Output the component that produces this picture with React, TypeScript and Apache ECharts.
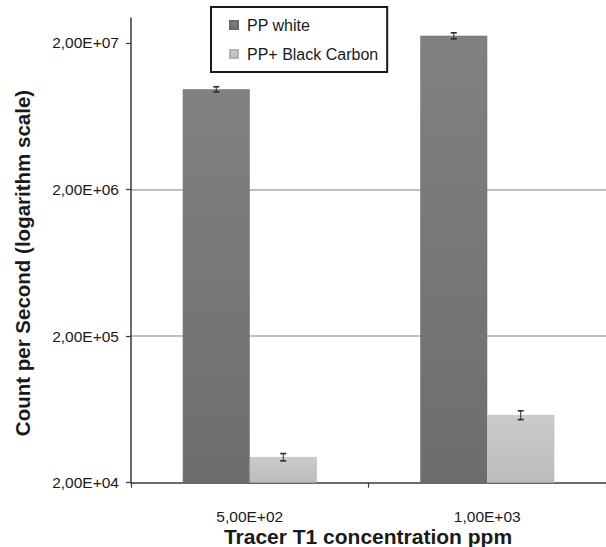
import React, { useEffect, useRef } from "react";
import * as echarts from "echarts";

const categories = ["5,00E+02", "1,00E+03"];
const seriesNames = ["PP white", "PP+ Black Carbon"];
const ppWhite = [9.66e6, 2.24e7];
const ppWhiteErr = [3.9e5, 1.07e6];
const ppBlack = [2.99e4, 5.79e4];
const ppBlackErr = [1.7e3, 4.0e3];
const yTickLabels = ["2,00E+04", "2,00E+05", "2,00E+06", "2,00E+07"];
const BASE = 2e4;
const Y_MAX = 2.96e7;
const xTitle = "Tracer T1 concentration ppm";
const yTitle = "Count per Second (logarithm scale)";

const toLog = (v: number) => Math.log10(v / BASE);
const FONT = "'Liberation Sans', Arial, sans-serif";

function errData(vals: number[], errs: number[]) {
  return vals.map((v, i) => [i, toLog(v - errs[i]), toLog(v + errs[i])]);
}

function errSeries(vals: number[], errs: number[], sign: number) {
  return {
    type: "custom",
    coordinateSystem: "cartesian2d",
    z: 5,
    silent: true,
    encode: { x: 0, y: [1, 2] },
    data: errData(vals, errs),
    renderItem: (params: any, api: any) => {
      const ci = api.value(0);
      const lo = api.coord([ci, api.value(1)]);
      const hi = api.coord([ci, api.value(2)]);
      const band = api.size([1, 0])[0];
      const x = lo[0] + sign * band * 0.141;
      const cap = 3;
      const st = { stroke: "#2a2a2a", lineWidth: 1 };
      const stc = { stroke: "#2a2a2a", lineWidth: 1.6 };
      return {
        type: "group",
        children: [
          { type: "line", shape: { x1: x, y1: hi[1], x2: x, y2: lo[1] }, style: st },
          { type: "line", shape: { x1: x - cap, y1: hi[1], x2: x + cap, y2: hi[1] }, style: stc },
          { type: "line", shape: { x1: x - cap, y1: lo[1], x2: x + cap, y2: lo[1] }, style: stc },
        ],
      };
    },
  };
}

export default function App() {
  const ref = useRef<HTMLDivElement>(null);
  useEffect(() => {
    if (!ref.current) return;
    const chart = echarts.init(ref.current, undefined, { renderer: "svg" });
    const darkFill = new echarts.graphic.LinearGradient(0, 0, 0, 1, [
      { offset: 0, color: "#818184" },
      { offset: 1, color: "#6d6d70" },
    ]);
    const lightFill = new echarts.graphic.LinearGradient(0, 0, 0, 1, [
      { offset: 0, color: "#cbcbcd" },
      { offset: 1, color: "#bcbcbe" },
    ]);
    chart.setOption({
      animation: false,
      backgroundColor: "#ffffff",
      textStyle: { fontFamily: FONT },
      grid: { left: 131, right: 0, top: 18, bottom: 64.3, containLabel: false },
      legend: {
        data: seriesNames,
        orient: "vertical",
        left: 211,
        top: 7,
        padding: [10, 9, 10, 18],
        itemGap: 13,
        itemWidth: 8,
        itemHeight: 8,
        icon: "rect",
        borderColor: "#1a1a1a",
        borderWidth: 2,
        backgroundColor: "#ffffff",
        textStyle: { fontSize: 16, fontFamily: FONT, color: "#1a1a1a", padding: [0, 0, 0, 4] },
      },
      xAxis: {
        type: "category",
        data: categories,
        axisLine: { lineStyle: { color: "#3a3a3a", width: 1.5 } },
        axisTick: { show: true, alignWithLabel: false, length: 5, lineStyle: { color: "#3a3a3a", width: 1.2 } },
        axisLabel: { fontSize: 15.5, color: "#1a1a1a", margin: 26, fontFamily: FONT },
        splitLine: { show: false },
      },
      yAxis: {
        type: "value",
        min: 0,
        max: toLog(Y_MAX),
        interval: 1,
        axisLine: { show: true, lineStyle: { color: "#3a3a3a", width: 1.5 } },
        axisTick: { show: true, length: 5, customValues: [0, 1, 2, 3], lineStyle: { color: "#3a3a3a", width: 1.2 } },
        axisLabel: {
          fontSize: 15.5,
          color: "#1a1a1a",
          margin: 12,
          fontFamily: FONT,
          customValues: [0, 1, 2, 3],
          formatter: (v: number) => {
            const i = Math.round(v);
            return Math.abs(v - i) < 1e-6 && yTickLabels[i] ? yTickLabels[i] : "";
          },
        },
        splitLine: { show: true, showMinLine: false, showMaxLine: false, lineStyle: { color: "#ababab", width: 1.5 } },
      },
      graphic: [
        {
          type: "text",
          x: 368,
          y: 536,
          style: { text: xTitle, font: `bold 21px ${FONT}`, fill: "#1a1a1a", align: "center", verticalAlign: "middle" },
        },
        {
          type: "text",
          x: 22,
          y: 263,
          rotation: Math.PI / 2,
          style: { text: yTitle, font: `bold 20.5px ${FONT}`, fill: "#1a1a1a", align: "center", verticalAlign: "middle" },
        },
      ],
      series: [
        {
          name: seriesNames[0],
          type: "bar",
          barWidth: "28.2%",
          barGap: "0%",
          data: ppWhite.map(toLog),
          itemStyle: { color: darkFill, borderColor: "#6a6a6d", borderWidth: 0.5 },
        },
        {
          name: seriesNames[1],
          type: "bar",
          barWidth: "28.2%",
          barGap: "0%",
          data: ppBlack.map(toLog),
          itemStyle: { color: lightFill, borderColor: "#b3b3b5", borderWidth: 0.5 },
        },
        errSeries(ppWhite, ppWhiteErr, -1),
        errSeries(ppBlack, ppBlackErr, 1),
      ],
    });
    return () => chart.dispose();
  }, []);
  return <div ref={ref} style={{ position: "fixed", left: 0, top: 0, width: 606, height: 547 }} />;
}
